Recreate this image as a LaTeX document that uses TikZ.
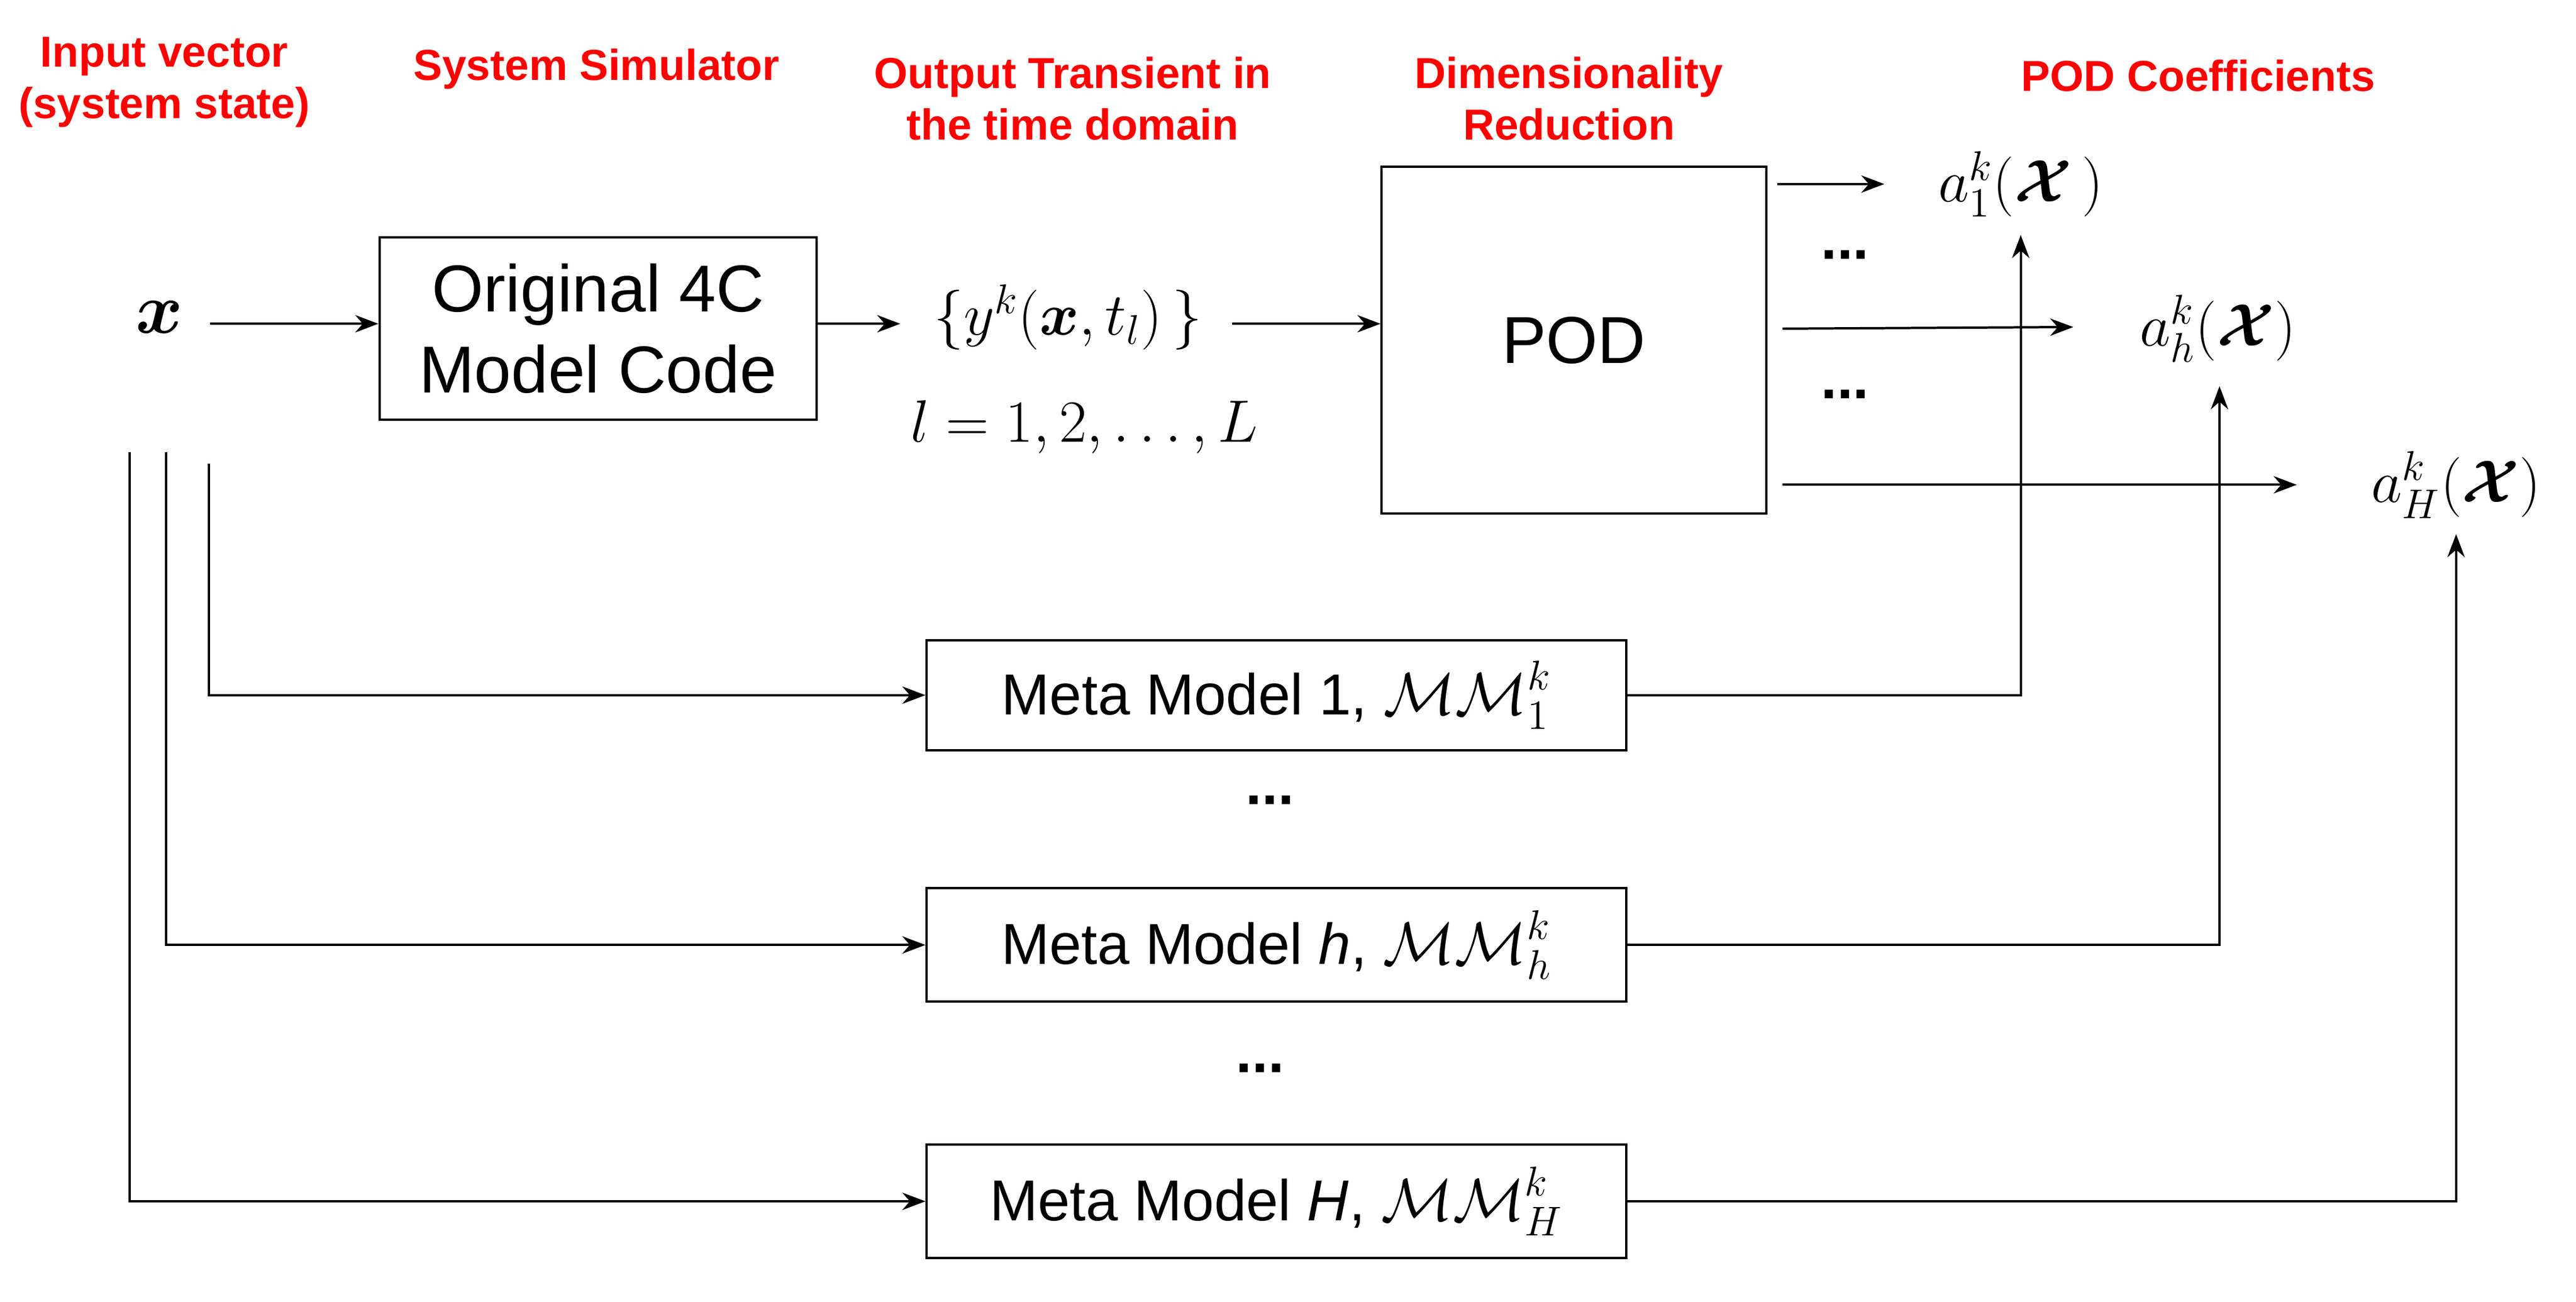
\documentclass[tikz,border=0pt]{standalone}
\usepackage{fontspec}
\usepackage{amsmath,bm}
\setmainfont{Liberation Sans}
\usetikzlibrary{arrows.meta}
\begin{document}
\begin{tikzpicture}[x=0.02cm,y=-0.02cm,
  lab/.style={text=red,font=\fontsize{15}{18}\selectfont\bfseries,align=center},
  box/.style={draw,line width=0.8pt,inner sep=0pt},
  bt/.style={font=\fontsize{23}{28}\selectfont,align=center},
  mt/.style={font=\fontsize{22}{26}\selectfont},
  arr/.style={-{Stealth[length=8pt,width=6pt]},line width=0.8pt},
  ln/.style={line width=0.8pt}]
\useasboundingbox (0,0) rectangle (1568,792);
\node[lab] (l1) at (100,50) {Input vector\\(system state)};
\node[lab] (l2) at (363,42) {System Simulator};
\node[lab] (l3) at (653,60) {Output Transient in\\the time domain};
\node[lab] (l4) at (955,60) {Dimensionality\\Reduction};
\node[lab] (l5) at (1338,46) {POD Coefficients};
\node[font=\fontsize{30}{34}\selectfont] (x) at (97,193) {$\bm{x}$};
\node[box,minimum width=266*0.02cm,minimum height=111*0.02cm] (orig) at (364,200) {};
\node[bt] at (orig) {Original 4C\\Model Code};
\node[mt] (y) at (650,193) {$\{y^k(\bm{x},t_l)\,\}$};
\node[mt] (ll) at (660,260) {$l=1,2,\dots,L$};
\node[box,minimum width=234*0.02cm,minimum height=211*0.02cm] (pod) at (958,207) {};
\node[bt] at (pod) {POD};
\node[mt] (a1) at (1230,112) {$a_1^k(\bm{\mathcal{X}}\,)$};
\node[mt] (ah) at (1350,200) {$a_h^k(\bm{\mathcal{X}})$};
\node[mt] (aH) at (1495,295) {$a_H^k(\bm{\mathcal{X}})$};
\node[bt,font=\fontsize{20}{24}\selectfont\bfseries] (d1) at (1123,155) {...};
\node[bt,font=\fontsize{20}{24}\selectfont\bfseries] (d2) at (1123,240) {...};
\node[bt,font=\fontsize{20}{24}\selectfont\bfseries] (d3) at (773,487) {...};
\node[bt,font=\fontsize{20}{24}\selectfont\bfseries] (d4) at (767,650) {...};
\node[box,minimum width=426*0.02cm,minimum height=67*0.02cm,font=\fontsize{20}{24}\selectfont] (m1) at (777,423) {Meta Model 1, $\mathcal{MM}_1^k$};
\node[box,minimum width=426*0.02cm,minimum height=69*0.02cm,font=\fontsize{20}{24}\selectfont] (mh) at (777,575) {Meta Model \textit{h}, $\mathcal{MM}_h^k$};
\node[box,minimum width=426*0.02cm,minimum height=69*0.02cm,font=\fontsize{20}{24}\selectfont] (mH) at (777,731) {Meta Model \textit{H}, $\mathcal{MM}_H^k$};
\coordinate (p1) at (127,282); \coordinate (p2) at (101,275); \coordinate (p3) at (79,275);
\draw[arr] (128,197) -- (orig.west |- 0,197);
\draw[arr] (orig.east |- 0,197) -- (548,197);
\draw[arr] (750,197) -- (pod.west |- 0,197);
\draw[arr] (1082,112) -- (1147,112);
\draw[arr] (1085,200) -- (1262,199);
\draw[arr] (1085,295) -- (1398,295);
\draw[arr] (p1) |- (m1.west);
\draw[arr] (p2) |- (mh.west);
\draw[arr] (p3) |- (mH.west);
\draw[arr] (m1.east) -| (1230,143);
\draw[arr] (mh.east) -| (1351,235);
\draw[arr] (mH.east) -| (1495,325);
\end{tikzpicture}
\end{document}
